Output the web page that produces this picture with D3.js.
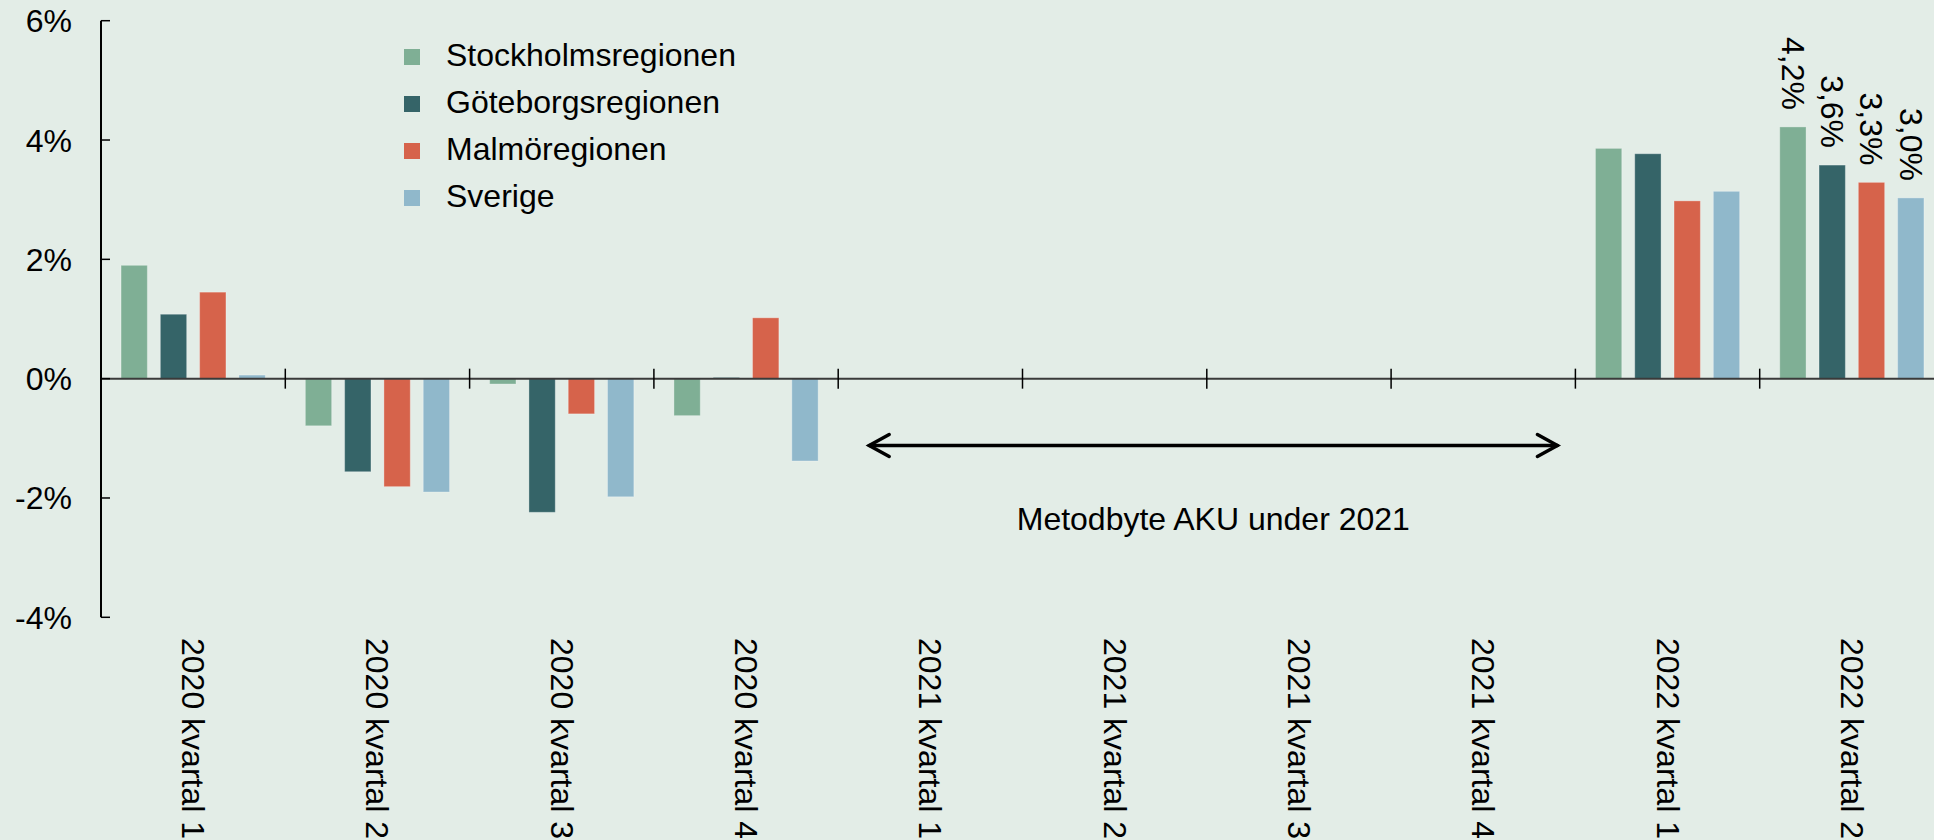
<!DOCTYPE html>
<html>
<head>
<meta charset="utf-8">
<script src="https://cdn.jsdelivr.net/npm/d3@7"></script>
<style>
  body { margin: 0; background: #e3ede7; }
  svg { display: block; font-family: "Liberation Sans", Arial, sans-serif; }
</style>
</head>
<body>
<div class="chart-box"></div>
<script>
// Categories along the x-axis
const categories = [
  '2020 kvartal 1', '2020 kvartal 2', '2020 kvartal 3', '2020 kvartal 4',
  '2021 kvartal 1', '2021 kvartal 2', '2021 kvartal 3', '2021 kvartal 4',
  '2022 kvartal 1', '2022 kvartal 2'
];

// Series names and values (percent), null where the survey changed method
const seriesNames = ['Stockholmsregionen', 'Göteborgsregionen', 'Malmöregionen', 'Sverige'];
const stockholm = [1.90, -0.79, -0.09, -0.62, null, null, null, null, 3.86, 4.22];
const goteborg = [1.08, -1.56, -2.24, 0.02, null, null, null, null, 3.77, 3.58];
const malmo = [1.45, -1.81, -0.59, 1.02, null, null, null, null, 2.98, 3.29];
const sverige = [0.06, -1.90, -1.98, -1.38, null, null, null, null, 3.14, 3.03];

const yTicks = [-4, -2, 0, 2, 4, 6];
const labelledCategory = '2022 kvartal 2';
const noteText = 'Metodbyte AKU under 2021';

const seriesColors = ['#7faf95', '#356468', '#d6634b', '#90b8cb'];

const W = 1934, H = 840;
const FONT = 32;

const svg = d3.select('.chart-box')
  .append('svg')
    .attr('width', W)
    .attr('height', H);

svg.append('rect')
  .attr('width', W)
  .attr('height', H)
  .attr('fill', '#e3ede7');

// scales
let x = d3.scaleBand()
  .domain(categories)
  .range([101, 101 + 184.3 * categories.length])
  .padding(0);

let xs = d3.scaleBand()
  .domain(seriesNames)
  .range([0, x.bandwidth()])
  .paddingInner(0.33)
  .paddingOuter(0.51);

let y = d3.scaleLinear()
  .domain([-4, 6])
  .range([617.3, 20.7]);

let rows = categories.map((c, i) => ({
  cat: c,
  values: [stockholm[i], goteborg[i], malmo[i], sverige[i]]
}));

// bars
let groups = svg.append('g')
  .selectAll('g')
  .data(rows)
  .enter().append('g')
    .attr('transform', d => 'translate(' + x(d.cat) + ',0)');

groups.selectAll('rect')
  .data(d => d.values.map((v, k) => ({ name: seriesNames[k], v: v, k: k })).filter(e => e.v !== null))
  .enter().append('rect')
    .attr('x', d => xs(d.name))
    .attr('width', xs.bandwidth())
    .attr('y', d => y(Math.max(0, d.v)))
    .attr('height', d => Math.abs(y(d.v) - y(0)))
    .attr('fill', d => seriesColors[d.k])
    .attr('stroke', 'rgba(255,255,255,0.3)')
    .attr('stroke-width', 1);

// value labels on the latest quarter
let last = rows.find(r => r.cat == labelledCategory);
svg.append('g')
  .selectAll('text')
  .data(last.values.map((v, k) => ({ name: seriesNames[k], v: v })))
  .enter().append('text')
    .attr('transform', d => 'translate(' + (x(last.cat) + xs(d.name) + xs.bandwidth() / 2) + ',' + (y(d.v) - 17) + ') rotate(90)')
    .attr('text-anchor', 'end')
    .attr('dominant-baseline', 'central')
    .attr('font-size', FONT)
    .attr('fill', '#000')
    .text(d => d3.format('.1f')(d.v).replace('.', ',') + '%');

// zero line with category separators
svg.append('line')
  .attr('x1', x.range()[0])
  .attr('x2', W)
  .attr('y1', y(0))
  .attr('y2', y(0))
  .attr('stroke', '#3a3a3a')
  .attr('stroke-width', 2);

svg.append('g')
  .selectAll('line')
  .data(categories)
  .enter().append('line')
    .attr('x1', d => x(d) + x.step())
    .attr('x2', d => x(d) + x.step())
    .attr('y1', y(0) - 10)
    .attr('y2', y(0) + 10)
    .attr('stroke', '#000')
    .attr('stroke-width', 1.5);

// y axis
let yAxis = svg.append('g')
  .attr('transform', 'translate(' + x.range()[0] + ',0)');

yAxis.append('line')
  .attr('y1', y(6))
  .attr('y2', y(-4))
  .attr('stroke', '#000')
  .attr('stroke-width', 2);

yAxis.selectAll('.tick')
  .data(yTicks)
  .enter().append('line')
    .attr('class', 'tick')
    .attr('x1', 0)
    .attr('x2', 9)
    .attr('y1', d => y(d))
    .attr('y2', d => y(d))
    .attr('stroke', '#000')
    .attr('stroke-width', 1.5);

yAxis.selectAll('.lbl')
  .data(yTicks)
  .enter().append('text')
    .attr('class', 'lbl')
    .attr('x', -29)
    .attr('y', d => y(d) + 11.5)
    .attr('text-anchor', 'end')
    .attr('font-size', FONT)
    .attr('fill', '#000')
    .text(d => d + '%');

// category labels, rotated
svg.append('g')
  .selectAll('text')
  .data(categories)
  .enter().append('text')
    .attr('transform', d => 'translate(' + (x(d) + x.bandwidth() / 2) + ',638) rotate(90)')
    .attr('text-anchor', 'start')
    .attr('dominant-baseline', 'central')
    .attr('font-size', FONT)
    .attr('fill', '#000')
    .text(d => d);

// legend
let legend = svg.append('g')
  .selectAll('g')
  .data(seriesNames)
  .enter().append('g')
    .attr('transform', (d, i) => 'translate(404,' + (49 + i * 47) + ')');

legend.append('rect')
  .attr('width', 16)
  .attr('height', 16)
  .attr('fill', (d, i) => seriesColors[i]);

legend.append('text')
  .attr('x', 42)
  .attr('y', 17)
  .attr('font-size', FONT)
  .attr('fill', '#000')
  .text(d => d);

// arrow across the 2021 quarters
let ax0 = x(categories[4]) + 31;
let ax1 = x(categories[7]) + x.step() - 18;
let ay = y(-1.12);
let note = svg.append('g')
  .attr('stroke', '#000')
  .attr('stroke-width', 3.5)
  .attr('fill', 'none')
  .attr('stroke-linecap', 'round');

note.append('line')
  .attr('x1', ax0).attr('x2', ax1)
  .attr('y1', ay).attr('y2', ay);

note.append('path')
  .attr('d', 'M' + (ax0 + 20) + ',' + (ay - 11) + 'L' + ax0 + ',' + ay + 'L' + (ax0 + 20) + ',' + (ay + 11));

note.append('path')
  .attr('d', 'M' + (ax1 - 20) + ',' + (ay - 11) + 'L' + ax1 + ',' + ay + 'L' + (ax1 - 20) + ',' + (ay + 11));

svg.append('text')
  .attr('x', (ax0 + ax1) / 2)
  .attr('y', y(-2.53))
  .attr('text-anchor', 'middle')
  .attr('font-size', FONT)
  .attr('fill', '#000')
  .text(noteText);
</script>
</body>
</html>
